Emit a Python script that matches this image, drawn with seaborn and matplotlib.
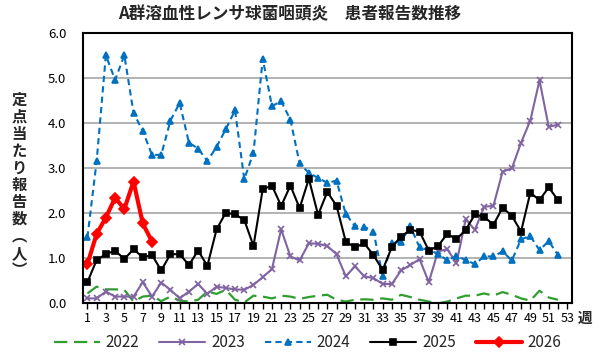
import seaborn as sns
import matplotlib.pyplot as plt
import numpy as np

# weekly reports per sentinel site
weeks = list(range(1, 54))

y2022 = [0.22, 0.37, 0.31, 0.31, 0.30, 0.04, 0.15, 0.17, 0.05, 0.15,
         0.06, 0.04, 0.08, 0.26, 0.21, 0.30, 0.08, 0.02, 0.17, 0.15,
         0.11, 0.17, 0.15, 0.10, 0.14, 0.17, 0.19, 0.08, 0.04, 0.08,
         0.09, 0.08, 0.11, 0.08, 0.19, 0.14, 0.08, 0.04, 0.00, 0.04,
         0.11, 0.17, 0.17, 0.22, 0.17, 0.25, 0.19, 0.11, 0.06, 0.28,
         0.13, 0.08]
y2023 = [0.11, 0.11, 0.26, 0.15, 0.15, 0.15, 0.47, 0.15, 0.46, 0.30,
         0.11, 0.26, 0.43, 0.21, 0.37, 0.34, 0.31, 0.30, 0.41, 0.58,
         0.76, 1.64, 1.04, 0.95, 1.33, 1.32, 1.27, 1.09, 0.60, 0.82,
         0.60, 0.56, 0.43, 0.43, 0.73, 0.85, 0.98, 0.47, 1.15, 1.20,
         0.89, 1.86, 1.63, 2.14, 2.16, 2.92, 2.99, 3.56, 4.05, 4.94,
         3.91, 3.96]
y2024 = [1.46, 3.15, 5.50, 4.95, 5.50, 4.22, 3.82, 3.29, 3.29, 4.05,
         4.44, 3.56, 3.43, 3.15, 3.47, 3.86, 4.28, 2.75, 3.34, 5.42,
         4.37, 4.48, 4.07, 3.10, 2.89, 2.78, 2.67, 2.72, 1.98, 1.71,
         1.70, 1.59, 0.61, 1.33, 1.37, 1.71, 1.24, 1.18, 1.10, 0.95,
         1.05, 0.96, 0.87, 1.04, 1.04, 1.15, 0.95, 1.42, 1.49, 1.18,
         1.38, 1.07]
y2025 = [0.47, 0.96, 1.09, 1.17, 0.98, 1.20, 1.02, 1.07, 0.73, 1.09,
         1.09, 0.85, 1.17, 0.83, 1.64, 2.01, 1.97, 1.85, 1.27, 2.53,
         2.61, 2.16, 2.61, 2.11, 2.76, 1.96, 2.47, 2.16, 1.37, 1.24,
         1.33, 1.07, 0.74, 1.25, 1.48, 1.63, 1.59, 1.17, 1.27, 1.54,
         1.42, 1.63, 1.97, 1.92, 1.74, 2.12, 1.94, 1.59, 2.45, 2.29,
         2.57, 2.29]
y2026 = [0.87, 1.54, 1.90, 2.34, 2.09, 2.70, 1.77, 1.37]

years = ["2022", "2023", "2024", "2025", "2026"]
yticks = [0, 1, 2, 3, 4, 5, 6]

sns.set_theme(style="white")
plt.rcParams['font.family'] = ['Noto Sans CJK JP', 'DejaVu Sans']

fig = plt.figure(figsize=(6, 3.62), dpi=100)
ax = fig.add_axes([0.138, 0.162, 0.815, 0.748])

styles = [
    dict(color="#2e9e2e", lw=1.6, marker=None, dash=(6, 3)),
    dict(color="#8064a2", lw=1.5, marker="x", ms=5, dash=None),
    dict(color="#0070c0", lw=1.5, marker="^", ms=4.5, dash=(3, 2)),
    dict(color="black", lw=1.5, marker="s", ms=5, dash=None),
    dict(color="#ff0000", lw=3.0, marker="D", ms=5, dash=None),
]

for yr, vals, st in zip(years, [y2022, y2023, y2024, y2025, y2026], styles):
    kw = dict(color=st["color"], linewidth=st["lw"], label=yr)
    if st["marker"]:
        kw.update(marker=st["marker"], markersize=st["ms"],
                  markeredgecolor=st["color"], markeredgewidth=1.2)
    sns.lineplot(x=weeks[:len(vals)], y=vals, ax=ax, **kw)
    if st["dash"]:
        ax.lines[-1].set_dashes(st["dash"])

ax.set_xlim(0.5, 53.5)
ax.set_ylim(0, 6)
ax.set_yticks(yticks)
ax.set_yticklabels([f"{v:.1f}" for v in yticks])
ax.set_xticks(weeks)
ax.set_xticklabels([str(w) if w % 2 == 1 else "" for w in weeks])
ax.yaxis.grid(True, color="#a6a6a6", linewidth=1.2)
ax.xaxis.grid(False)
ax.set_axisbelow(True)
for sp in ax.spines.values():
    sp.set_color("black")
    sp.set_linewidth(1.5)
ax.tick_params(axis="y", length=0, pad=12, labelsize=9.5, labelcolor="black")
ax.tick_params(axis="x", direction="out", length=4, width=1, color="black",
               pad=2, labelsize=9, labelcolor="black", bottom=True)
ax.set_xlabel("")
ax.set_ylabel("")

ax.text(1.027, -0.055, "週", transform=ax.transAxes, fontsize=10.5,
        fontweight="bold", ha="center", va="center")

fig.text(0.483, 0.961, "A群溶血性レンサ球菌咽頭炎　患者報告数推移",
         fontsize=12, fontweight="bold", ha="center", va="center")

label = "\n".join("定点当たり報告数︵人︶")
fig.text(0.032, 0.49, label, fontsize=11, fontweight="bold",
         ha="center", va="center", linespacing=1.08)

ax.legend(loc="center", bbox_to_anchor=(0.46, -0.146), ncol=5, frameon=False,
          fontsize=11, handlelength=3.0, columnspacing=1.3, handletextpad=0.4)

fig.savefig("out.png", dpi=100)
